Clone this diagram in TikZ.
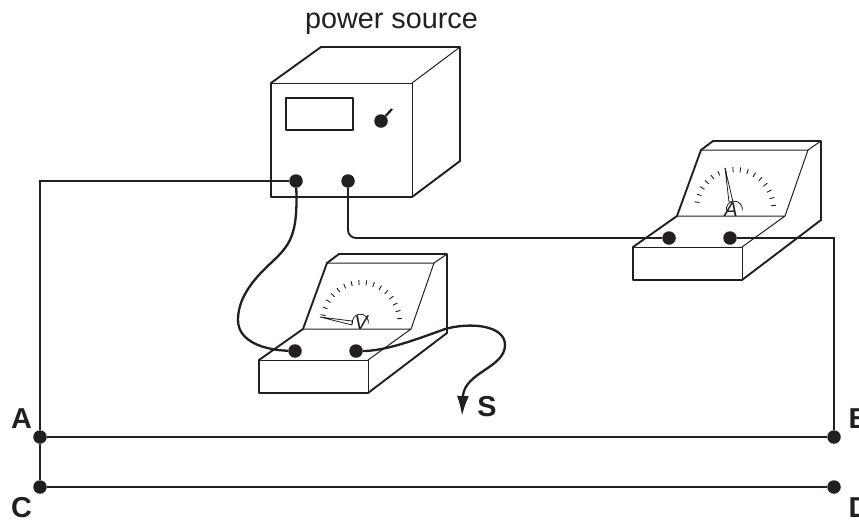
\documentclass[tikz,border=0pt]{standalone}
\usepackage{fontspec}
\setmainfont{Liberation Sans}
\usepackage{tikz}
\usetikzlibrary{arrows.meta}
\definecolor{inkblack}{RGB}{35, 31, 32}
\tikzset{
    terminal/.style={circle, fill=inkblack, draw=none, inner sep=0pt, minimum size=13.5pt},
    wire/.style={inkblack, line width=1.9pt},
    edgebold/.style={inkblack, line width=1.9pt, line join=round},
    edgethin/.style={inkblack, line width=1pt, line join=round},
    caption/.style={inkblack, font=\fontsize{28.8}{32}\selectfont, anchor=base},
    letter/.style={inkblack, font=\fontsize{28.8}{32}\selectfont\bfseries, anchor=base},
    dial/.style={inkblack, font=\fontsize{20}{22}\selectfont\itshape, anchor=base, inner sep=0pt}
}

\begin{document}
\begin{tikzpicture}[x=1pt, y=-1pt]
            % Frame to fix the page
            \useasboundingbox (0, 0) rectangle (859, 520);
            % Power source
            \draw[edgebold] (412, 197) -- (271, 197) -- (271, 83) -- (321, 47) -- (460, 47) -- (460, 161) -- (412, 197);
            \draw[edgethin] (271, 83) -- (412, 83) -- (412, 197);
            \draw[edgethin] (412, 83) -- (460, 47);
            \draw[edgebold, line width=1.4pt] (286, 98) rectangle (353, 130);
            \node[terminal] (knob) at (381, 121) {};
            \draw[edgebold, line width=2.2pt] (knob) -- (392, 109);
            \node[caption] (title) at (391.5, 28) {power source};
            % Meter bodies, the second one is the first one moved
            \foreach \dx/\dy in {0/0, 374/-113} {
                \begin{scope}[shift={(\dx, \dy)}]
                    \draw[edgebold] (303, 329) -- (327, 263) -- (339, 254) -- (447, 254) -- (447, 333) -- (368, 393) -- (259, 393) -- (259, 360) -- (303, 329);
                    \draw[edgethin] (259, 360) -- (368, 360) -- (368, 393);
                    \draw[edgethin] (368, 360) -- (411, 329) -- (303, 329);
                    \draw[edgethin] (411, 329) -- (434, 263) -- (327, 263);
                    \draw[edgethin] (434, 263) -- (447, 254);
                    % Scale ticks
                    \foreach \a in {0, 1, ..., 15} {
                        \pgfmathsetmacro{\ang}{170 - \a*11}
                        \draw[inkblack, line width=0.9pt] ({361 + 36*cos(\ang)}, {322 - 37*sin(\ang)}) -- ({361 + 41*cos(\ang)}, {322 - 42*sin(\ang)});
                    }
                    % Pivot
                    \draw[edgethin, line width=0.8pt] (352.5, 323.5) arc (170:370:8);
                \end{scope}
            }
            % Needles and dial letters
            \draw[edgethin, line width=0.8pt] (320, 317) -- (352, 321) -- (352, 325) -- cycle;
            \draw[edgethin, line width=0.8pt] (725, 168) -- (729, 202) -- (733, 202) -- cycle;
            \node[dial] (vletter) at (361, 329) {V};
            \node[dial] (aletter) at (731, 216) {A};
            % Terminals
            \node[terminal] (sourceplus)  at (296, 181) {};
            \node[terminal] (sourceminus) at (348, 181) {};
            \node[terminal] (voltplus)    at (295, 351) {};
            \node[terminal] (voltminus)   at (356, 351) {};
            \node[terminal] (ampplus)     at (669, 238) {};
            \node[terminal] (ampminus)    at (730, 238) {};
            \node[terminal] (pointa)      at (40, 437) {};
            \node[terminal] (pointb)      at (834, 437) {};
            \node[terminal] (pointc)      at (40, 487) {};
            \node[terminal] (pointd)      at (834, 487) {};
            \coordinate (probe) at (462, 416);
            % Wires
            \draw[wire] (sourceplus) -| (pointa);
            \draw[wire] (pointa) -- (pointc);
            \draw[wire] (pointa) -- (pointb);
            \draw[wire] (pointc) -- (pointd);
            \draw[wire, rounded corners=8pt] (sourceminus) |- (ampplus);
            \draw[wire] (ampminus) -| (pointb);
            \draw[wire, line width=2.3pt] (sourceplus) .. controls (298, 235) and (290, 245) .. (272, 262)
                 .. controls (250, 282) and (238, 300) .. (238, 320)
                 .. controls (238, 342) and (265, 350) .. (voltplus);
            \draw[wire, line width=2.3pt, -{Latex[length=20pt, width=12pt]}] (voltminus) .. controls (385, 351) and (415, 340) .. (445, 329)
                 .. controls (470, 322) and (505, 325) .. (505, 345)
                 .. controls (505, 368) and (464, 372) .. (probe);
            % Letters
            \node[letter] (labela) at (21.5, 428) {A};
            \node[letter, anchor=base west] (labelb) at (845, 428) {B};
            \node[letter] (labelc) at (21.5, 517) {C};
            \node[letter, anchor=base west] (labeld) at (845, 517) {D};
            \node[letter] (labels) at (487, 416) {S};
\end{tikzpicture}
\end{document}
